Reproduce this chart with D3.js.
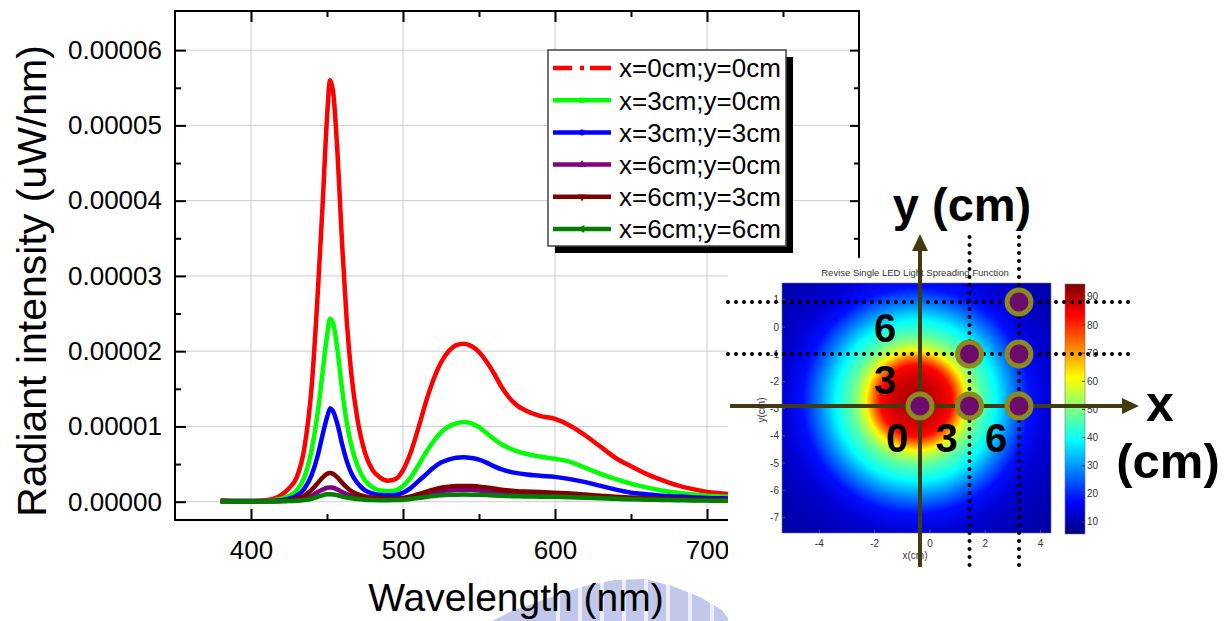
<!DOCTYPE html>
<html>
<head>
<meta charset="utf-8">
<script src="https://cdn.jsdelivr.net/npm/d3@7"></script>
<style>
  body { margin: 0; background: #fff; }
  text { font-family: "Liberation Sans", Arial, sans-serif; }
</style>
</head>
<body>
<div id="chart"></div>
<script>
// spectra, intensity in units of 1e-5 uW/nm
var wavelength = [380, 390, 400, 410, 415, 420, 425, 430, 435, 440,
  444, 447, 450, 452, 454, 457, 460, 463, 466, 470,
  475, 480, 485, 490, 495, 500, 505, 510, 515, 520,
  525, 530, 535, 540, 545, 550, 555, 560, 565, 570,
  575, 580, 590, 600, 610, 620, 630, 640, 650, 660,
  670, 680, 690, 700, 710, 720, 740, 760, 780];

var red = [0.02, 0.01, 0.01, 0.02, 0.04, 0.09, 0.18, 0.32, 0.7, 1.55,
  2.8, 3.9, 5.1, 5.6, 5.45, 4.6, 3.4, 2.4, 1.7, 1.1,
  0.65, 0.42, 0.32, 0.28, 0.3, 0.42, 0.65, 0.97, 1.32, 1.62,
  1.85, 2.0, 2.08, 2.1, 2.07, 1.99, 1.86, 1.7, 1.52, 1.38,
  1.28, 1.22, 1.14, 1.1, 1.01, 0.88, 0.73, 0.58, 0.47, 0.37,
  0.29, 0.22, 0.17, 0.13, 0.11, 0.09, 0.06, 0.04, 0.03];
var green = [0.01, 0.01, 0.01, 0.01, 0.02, 0.04, 0.08, 0.15, 0.32, 0.7,
  1.2, 1.7, 2.2, 2.43, 2.37, 2.0, 1.48, 1.05, 0.75, 0.48,
  0.28, 0.19, 0.15, 0.14, 0.15, 0.21, 0.32, 0.48, 0.65, 0.8,
  0.92, 1.0, 1.04, 1.06, 1.04, 0.99, 0.91, 0.83, 0.76, 0.71,
  0.67, 0.64, 0.6, 0.57, 0.53, 0.45, 0.37, 0.3, 0.24, 0.19,
  0.15, 0.12, 0.1, 0.08, 0.07, 0.06, 0.04, 0.03, 0.02];
var blue = [0.01, 0.01, 0.01, 0.01, 0.01, 0.02, 0.04, 0.08, 0.17, 0.36,
  0.62, 0.88, 1.12, 1.24, 1.2, 1.02, 0.76, 0.54, 0.38, 0.25,
  0.15, 0.11, 0.09, 0.085, 0.09, 0.12, 0.18, 0.27, 0.36, 0.45,
  0.52, 0.56, 0.585, 0.59, 0.58, 0.56, 0.52, 0.47, 0.43, 0.4,
  0.38, 0.365, 0.345, 0.33, 0.3, 0.26, 0.21, 0.16, 0.12, 0.1,
  0.08, 0.07, 0.06, 0.05, 0.045, 0.04, 0.03, 0.02, 0.015];
var purple = [0.005, 0.005, 0.005, 0.005, 0.006, 0.008, 0.012, 0.02, 0.04, 0.08,
  0.13, 0.16, 0.185, 0.19, 0.185, 0.16, 0.13, 0.1, 0.08, 0.06,
  0.045, 0.035, 0.03, 0.03, 0.032, 0.04, 0.055, 0.075, 0.1, 0.12,
  0.14, 0.15, 0.157, 0.16, 0.158, 0.15, 0.14, 0.13, 0.12, 0.115,
  0.11, 0.105, 0.1, 0.095, 0.088, 0.077, 0.065, 0.055, 0.045, 0.038,
  0.032, 0.027, 0.023, 0.02, 0.018, 0.016, 0.012, 0.01, 0.008];
var maroon = [0.005, 0.005, 0.005, 0.006, 0.008, 0.012, 0.02, 0.04, 0.08, 0.16,
  0.25, 0.32, 0.37, 0.38, 0.37, 0.32, 0.25, 0.19, 0.14, 0.1,
  0.07, 0.055, 0.045, 0.04, 0.042, 0.05, 0.07, 0.1, 0.13, 0.16,
  0.185, 0.2, 0.21, 0.21, 0.21, 0.2, 0.19, 0.175, 0.16, 0.15,
  0.14, 0.135, 0.13, 0.12, 0.11, 0.095, 0.08, 0.065, 0.055, 0.045,
  0.04, 0.035, 0.03, 0.027, 0.025, 0.022, 0.018, 0.014, 0.01];
var darkGreen = [0.004, 0.004, 0.004, 0.004, 0.005, 0.006, 0.008, 0.012, 0.022, 0.04,
  0.065, 0.085, 0.098, 0.1, 0.097, 0.085, 0.07, 0.055, 0.045, 0.035,
  0.027, 0.022, 0.02, 0.02, 0.022, 0.027, 0.036, 0.048, 0.062, 0.075,
  0.085, 0.091, 0.094, 0.095, 0.094, 0.092, 0.088, 0.083, 0.079, 0.075,
  0.072, 0.07, 0.067, 0.065, 0.06, 0.053, 0.045, 0.038, 0.032, 0.027,
  0.023, 0.02, 0.017, 0.015, 0.013, 0.012, 0.01, 0.008, 0.006];

var seriesNames = ["x=0cm;y=0cm", "x=3cm;y=0cm", "x=3cm;y=3cm", "x=6cm;y=0cm", "x=6cm;y=3cm", "x=6cm;y=6cm"];
var seriesValues = [red, green, blue, purple, maroon, darkGreen];
var seriesColors = ["#ff0000", "#00ff00", "#0000ff", "#800080", "#800000", "#008000"];
// measurement positions (cm)
var posX = [0, 3, 3, 6, 6, 6];
var posY = [0, 0, 3, 0, 3, 6];

var xTicks = [400, 500, 600, 700];
var xMinor = [450, 550, 650, 750];
var yTicks = [0, 1, 2, 3, 4, 5, 6];
var yMinor = [0.5, 1.5, 2.5, 3.5, 4.5, 5.5];

// light spreading map: radial profile (radius cm -> value)
var profileRadius = [0, 0.6, 1.0, 1.3, 1.55, 1.8, 2.0, 2.35, 2.9, 3.5, 4.1, 4.8, 5.5, 6.5, 8];
var profileValue = [92, 89, 86, 83, 73, 62, 55, 47, 39, 28, 18, 13, 11, 9, 7];
var mapCenter = [-0.5, -2.7];
var mapXTicks = [-4, -2, 0, 2, 4];
var mapYTicks = [1, 0, -1, -2, -3, -4, -5, -6, -7];
var barTicks = [10, 20, 30, 40, 50, 60, 70, 80, 90];

var font = '"Liberation Sans", Arial, sans-serif';
var width = 1225, height = 621;

var svg = d3.select("#chart").append("svg")
  .attr("width", width)
  .attr("height", height);
svg.append("rect").attr("width", width).attr("height", height).attr("fill", "#fff");
var defs = svg.append("defs");

var x = d3.scaleLinear().domain([350, 800]).range([175, 859]);
var y = d3.scaleLinear().domain([-0.243, 6.52]).range([520, 11]);

// watermark (faint logo behind the x title)
var wm = svg.append("g").attr("fill", "#c3c7ea");
wm.append("path")
  .attr("d", "M492,621 L510,612 L535,603 L560,594 L585,586 L615,580 L645,579 L672,586 L700,597 L722,610 L730,621 Z");
wm.selectAll("rect.stripe")
  .data(d3.range(556, 720, 22))
  .enter().append("rect")
    .attr("x", function(d) { return d; })
    .attr("y", 575)
    .attr("width", 4)
    .attr("height", 46)
    .attr("fill", "#fff")
    .attr("opacity", 0.7);

// grid
var grid = svg.append("g").attr("stroke", "#cccccc").attr("stroke-width", 1);
grid.selectAll("line.gx").data(xTicks).enter().append("line")
  .attr("x1", function(d) { return x(d); }).attr("x2", function(d) { return x(d); })
  .attr("y1", y.range()[1]).attr("y2", y.range()[0]);
grid.selectAll("line.gy").data(yTicks).enter().append("line")
  .attr("y1", function(d) { return y(d); }).attr("y2", function(d) { return y(d); })
  .attr("x1", x.range()[0]).attr("x2", x.range()[1]);

// curves
defs.append("clipPath").attr("id", "plotClip").append("rect")
  .attr("x", 175).attr("y", 11).attr("width", 684).attr("height", 509);

var line = d3.line()
  .x(function(d) { return x(d[0]); })
  .y(function(d) { return y(d[1]); })
  .curve(d3.curveMonotoneX);

svg.append("g").attr("clip-path", "url(#plotClip)")
  .selectAll("path")
  .data(seriesValues)
  .enter().append("path")
    .attr("fill", "none")
    .attr("stroke", function(d, i) { return seriesColors[i]; })
    .attr("stroke-width", 4.5)
    .attr("stroke-linejoin", "round")
    .attr("d", function(vals) { return line(wavelength.map(function(w, j) { return [w, vals[j]]; })); });

// axes (ticks inward)
function styleAxis(g) {
  g.select(".domain").remove();
  g.selectAll(".tick line").attr("stroke", "#000").attr("stroke-width", 2);
  g.selectAll("text").attr("font-family", font).attr("font-size", 26).attr("fill", "#000");
}
var plotBottom = y.range()[0], plotTop = y.range()[1], plotLeft = x.range()[0], plotRight = x.range()[1];

svg.append("g").attr("transform", "translate(0," + plotBottom + ")")
  .call(d3.axisBottom(x).tickValues(xTicks).tickSize(-11).tickPadding(21).tickFormat(d3.format("d")))
  .call(styleAxis);
svg.append("g").attr("transform", "translate(0," + plotBottom + ")")
  .call(d3.axisBottom(x).tickValues(xMinor).tickSize(-6).tickFormat(""))
  .call(styleAxis);
svg.append("g").attr("transform", "translate(0," + plotTop + ")")
  .call(d3.axisTop(x).tickValues(xTicks).tickSize(-11).tickFormat(""))
  .call(styleAxis);
svg.append("g").attr("transform", "translate(0," + plotTop + ")")
  .call(d3.axisTop(x).tickValues(xMinor).tickSize(-6).tickFormat(""))
  .call(styleAxis);
svg.append("g").attr("transform", "translate(" + plotLeft + ",0)")
  .call(d3.axisLeft(y).tickValues(yTicks).tickSize(-11).tickPadding(13)
    .tickFormat(function(d) { return (d * 1e-5).toFixed(5); }))
  .call(styleAxis);
svg.append("g").attr("transform", "translate(" + plotLeft + ",0)")
  .call(d3.axisLeft(y).tickValues(yMinor).tickSize(-6).tickFormat(""))
  .call(styleAxis);
svg.append("g").attr("transform", "translate(" + plotRight + ",0)")
  .call(d3.axisRight(y).tickValues(yTicks).tickSize(-9).tickFormat(""))
  .call(styleAxis);
svg.append("g").attr("transform", "translate(" + plotRight + ",0)")
  .call(d3.axisRight(y).tickValues(yMinor).tickSize(-5).tickFormat(""))
  .call(styleAxis);

svg.append("rect")
  .attr("x", plotLeft).attr("y", plotTop)
  .attr("width", plotRight - plotLeft).attr("height", plotBottom - plotTop)
  .attr("fill", "none").attr("stroke", "#000").attr("stroke-width", 2);

// axis titles
svg.append("text")
  .attr("transform", "translate(46,281) rotate(-90)")
  .attr("text-anchor", "middle")
  .attr("font-size", 41)
  .text("Radiant intensity (uW/nm)");
svg.append("text")
  .attr("x", 516).attr("y", 611)
  .attr("text-anchor", "middle")
  .attr("font-size", 39)
  .text("Wavelength (nm)");

// legend
var lg = svg.append("g").attr("transform", "translate(548,50)");
lg.append("rect").attr("x", 7).attr("y", 7).attr("width", 238).attr("height", 196).attr("fill", "#000");
lg.append("rect").attr("width", 238).attr("height", 196).attr("fill", "#fff")
  .attr("stroke", "#444").attr("stroke-width", 1.5);
var symbols = [null, d3.symbolSquare, d3.symbolCircle, d3.symbolTriangle, d3.symbolTriangle, d3.symbolTriangle];
var symbolRotate = [0, 0, 0, 0, 180, -90];
var rows = lg.selectAll("g.row").data(seriesNames).enter().append("g")
  .attr("transform", function(d, i) { return "translate(0," + (18 + i * 32.2) + ")"; });
rows.append("line")
  .attr("x1", 5).attr("x2", 63)
  .attr("stroke", function(d, i) { return seriesColors[i]; })
  .attr("stroke-width", 4.5)
  .attr("stroke-dasharray", function(d, i) { return i === 0 ? "19 8 4 6 21" : null; });
rows.filter(function(d, i) { return i > 0; }).append("path")
  .attr("transform", function(d, i) { return "translate(34,0) rotate(" + symbolRotate[i + 1] + ")"; })
  .attr("d", function(d, i) { return d3.symbol().type(symbols[i + 1]).size(28)(); })
  .attr("fill", function(d, i) { return seriesColors[i + 1]; });
rows.append("text")
  .attr("x", 71).attr("dy", "0.36em")
  .attr("font-size", 26)
  .text(function(d) { return d; });

// ---- inset: light spreading map ----
svg.append("rect").attr("x", 728).attr("y", 258).attr("width", width - 728).attr("height", height - 258)
  .attr("fill", "#fff");

var vMin = 5.7, vMax = 94.6;
var jetStops = [0, 0.125, 0.375, 0.625, 0.875, 1];
var jetColors = ["#000080", "#0000ff", "#00ffff", "#ffff00", "#ff0000", "#800000"];
var jet = d3.scaleLinear()
  .domain(jetStops.map(function(t) { return vMin + t * (vMax - vMin); }))
  .range(jetColors);

var hx = d3.scaleLinear().domain([-5.35, 4.38]).range([782, 1051]);
var hy = d3.scaleLinear().domain([1.62, -7.57]).range([283, 533]);

var rg = defs.append("radialGradient").attr("id", "spread")
  .attr("gradientUnits", "userSpaceOnUse")
  .attr("cx", hx(mapCenter[0])).attr("cy", hy(mapCenter[1]))
  .attr("r", hx(d3.max(profileRadius)) - hx(0));
rg.selectAll("stop").data(profileRadius).enter().append("stop")
  .attr("offset", function(d) { return d / d3.max(profileRadius); })
  .attr("stop-color", function(d, i) { return jet(profileValue[i]); });

svg.append("rect")
  .attr("x", hx.range()[0]).attr("y", hy.range()[0])
  .attr("width", hx.range()[1] - hx.range()[0]).attr("height", hy.range()[1] - hy.range()[0])
  .attr("fill", "url(#spread)").attr("stroke", "#777").attr("stroke-width", 0.6);

var mapAxis = svg.append("g").attr("fill", "#333").attr("font-size", 10);
mapAxis.selectAll("text.mx").data(mapXTicks).enter().append("text")
  .attr("x", function(d) { return hx(d); }).attr("y", 547)
  .attr("text-anchor", "middle").text(function(d) { return d; });
mapAxis.selectAll("text.my").data(mapYTicks).enter().append("text")
  .attr("x", 779).attr("y", function(d) { return hy(d); }).attr("dy", "0.35em")
  .attr("text-anchor", "end").text(function(d) { return d; });
mapAxis.selectAll("line.mxt").data(mapXTicks).enter().append("line")
  .attr("x1", function(d) { return hx(d); }).attr("x2", function(d) { return hx(d); })
  .attr("y1", 533).attr("y2", 530).attr("stroke", "#555");
mapAxis.selectAll("line.myt").data(mapYTicks).enter().append("line")
  .attr("y1", function(d) { return hy(d); }).attr("y2", function(d) { return hy(d); })
  .attr("x1", 782).attr("x2", 785).attr("stroke", "#555");
mapAxis.append("text").attr("x", 915).attr("y", 559).attr("text-anchor", "middle").text("x(cm)");
mapAxis.append("text").attr("transform", "translate(765,410) rotate(-90)").attr("text-anchor", "middle").text("y(cm)");
mapAxis.append("text").attr("x", 915).attr("y", 276).attr("text-anchor", "middle").attr("font-size", 9.5)
  .text("Revise Single LED Light Spreading Function");

// colorbar
var cb = d3.scaleLinear().domain([vMin, vMax]).range([534, 284]);
var lgrad = defs.append("linearGradient").attr("id", "jetbar")
  .attr("x1", 0).attr("y1", 1).attr("x2", 0).attr("y2", 0);
lgrad.selectAll("stop").data(jetStops).enter().append("stop")
  .attr("offset", function(d) { return d; })
  .attr("stop-color", function(d, i) { return jetColors[i]; });
svg.append("rect").attr("x", 1065).attr("y", cb(vMax)).attr("width", 20).attr("height", cb(vMin) - cb(vMax))
  .attr("fill", "url(#jetbar)").attr("stroke", "#777").attr("stroke-width", 0.6);
var cbAxis = svg.append("g").attr("fill", "#333").attr("font-size", 10);
cbAxis.selectAll("text").data(barTicks).enter().append("text")
  .attr("x", 1087).attr("y", function(d) { return cb(d); }).attr("dy", "0.35em")
  .text(function(d) { return d; });
cbAxis.selectAll("line").data(barTicks).enter().append("line")
  .attr("x1", 1082).attr("x2", 1085)
  .attr("y1", function(d) { return cb(d); }).attr("y2", function(d) { return cb(d); })
  .attr("stroke", "#444");

// schematic overlay: measurement grid
var sx = d3.scaleLinear().domain([0, 6]).range([920, 1019]);
var sy = d3.scaleLinear().domain([0, 6]).range([406, 302]);
var olive = "#403c10";

var dots = svg.append("g").attr("stroke", "#000").attr("stroke-width", 4)
  .attr("stroke-linecap", "round").attr("stroke-dasharray", "0 8");
dots.selectAll("line.hd").data([3, 6]).enter().append("line")
  .attr("x1", 728).attr("x2", 1135)
  .attr("y1", function(d) { return sy(d); }).attr("y2", function(d) { return sy(d); });
dots.selectAll("line.vd").data([3, 6]).enter().append("line")
  .attr("y1", 237).attr("y2", 567)
  .attr("x1", function(d) { return sx(d); }).attr("x2", function(d) { return sx(d); });

var arrows = svg.append("g");
arrows.append("line").attr("x1", 730).attr("x2", 1125).attr("y1", sy(0)).attr("y2", sy(0))
  .attr("stroke", olive).attr("stroke-width", 4);
arrows.append("path")
  .attr("d", "M1122," + (sy(0) - 8) + " L1139," + sy(0) + " L1122," + (sy(0) + 8) + " Z")
  .attr("fill", olive);
arrows.append("line").attr("y1", 567).attr("y2", 248).attr("x1", sx(0)).attr("x2", sx(0))
  .attr("stroke", olive).attr("stroke-width", 4);
arrows.append("path")
  .attr("d", "M" + (sx(0) - 8) + ",251 L" + sx(0) + ",234 L" + (sx(0) + 8) + ",251 Z")
  .attr("fill", olive);

svg.append("g").selectAll("circle").data(posX).enter().append("circle")
  .attr("cx", function(d) { return sx(d); })
  .attr("cy", function(d, i) { return sy(posY[i]); })
  .attr("r", 12)
  .attr("fill", "#6c0c6c")
  .attr("stroke", "#8c891e")
  .attr("stroke-width", 5);

var nums = svg.append("g").attr("font-weight", "bold").attr("font-size", 40).attr("text-anchor", "middle");
nums.selectAll("text.ny").data([3, 6]).enter().append("text")
  .attr("x", sx(0) - 35)
  .attr("y", function(d) { return (sy(d) + sy(d - 3)) / 2 + 14; })
  .text(function(d) { return d; });
nums.selectAll("text.nx").data([0, 3, 6]).enter().append("text")
  .attr("x", function(d) { return sx(d) - 23; })
  .attr("y", 452)
  .text(function(d) { return d; });

var big = svg.append("g").attr("font-weight", "bold").attr("fill", "#000");
big.append("text").attr("x", 962).attr("y", 221).attr("text-anchor", "middle").attr("font-size", 47).text("y (cm)");
big.append("text").attr("x", 1160).attr("y", 421).attr("text-anchor", "middle").attr("font-size", 50).text("x");
big.append("text").attr("x", 1168).attr("y", 478).attr("text-anchor", "middle").attr("font-size", 49).text("(cm)");
</script>
</body>
</html>
